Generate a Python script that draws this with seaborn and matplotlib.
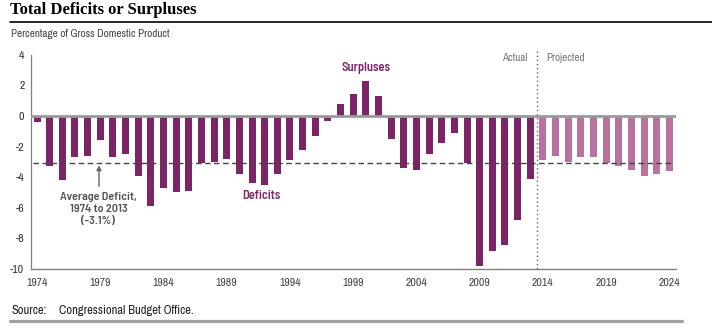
import numpy as np
import pandas as pd
import matplotlib
matplotlib.use("Agg")
import matplotlib.pyplot as plt
from matplotlib.lines import Line2D
import seaborn as sns

# ---- data -------------------------------------------------------------
actual_years = list(range(1974, 2014))
actual_values = [-0.4, -3.3, -4.2, -2.7, -2.6, -1.6, -2.7, -2.5, -3.9, -5.9,
                 -4.7, -5.0, -4.9, -3.1, -3.0, -2.8, -3.8, -4.4, -4.5, -3.8,
                 -2.9, -2.2, -1.3, -0.3, 0.8, 1.4, 2.3, 1.3, -1.5, -3.4,
                 -3.5, -2.5, -1.8, -1.1, -3.1, -9.8, -8.8, -8.4, -6.8, -4.1]
projected_years = list(range(2014, 2025))
projected_values = [-2.9, -2.6, -3.0, -2.7, -2.7, -3.1, -3.3, -3.5, -3.9, -3.8, -3.6]
average_deficit = -3.1
xtick_years = list(range(1974, 2025, 5))
yticks = [-10, -8, -6, -4, -2, 0, 2, 4]

df = pd.DataFrame({
    "year": actual_years + projected_years,
    "value": actual_values + projected_values,
    "period": ["Actual"] * len(actual_years) + ["Projected"] * len(projected_years),
})

# ---- style -------------------------------------------------------------
sns.set_style("white")
NARROW = ["Archivo Narrow", "DejaVu Sans"]
BOLDF = ["Barlow Semi Condensed", "DejaVu Sans"]
plt.rcParams["font.family"] = NARROW

C_ACT = "#7B2466"
C_PROJ = "#B8729E"
GREY_TXT = "#555555"
AX_GREY = "#808080"

W, H = 712, 329
fig = plt.figure(figsize=(W / 100, H / 100), dpi=100)
fig.patch.set_facecolor("white")

def px(x, y):
    return x / W, 1 - y / H

ax = fig.add_axes([30.7 / W, 1 - 269 / H, (675.7 - 30.7) / W, (269 - 54.7) / H])

sns.barplot(data=df, x="year", y="value", hue="period",
            palette={"Actual": C_ACT, "Projected": C_PROJ},
            native_scale=True, width=0.55, dodge=False, saturation=1,
            linewidth=0, legend=False, ax=ax)

ax.set_xlim(1973.5, 2024.5)
ax.set_ylim(-10, 4)
ax.set_xlabel("")
ax.set_ylabel("")

for s in ["top", "right"]:
    ax.spines[s].set_visible(False)
ax.spines["left"].set_color(AX_GREY)
ax.spines["left"].set_linewidth(0.9)
ax.spines["bottom"].set_color(AX_GREY)
ax.spines["bottom"].set_linewidth(1.0)

ax.set_yticks(yticks)
ax.set_yticklabels([str(v) for v in yticks])
ax.tick_params(axis="y", direction="in", length=3, width=0.8, color=AX_GREY,
               labelsize=8.5, labelcolor="#333333", pad=4.5)

ax.set_xticks(xtick_years)
ax.set_xticklabels([str(v) for v in xtick_years])
ax.set_xticks([y - 0.5 for y in xtick_years[1:]], minor=True)
ax.tick_params(axis="x", which="major", length=0, labelsize=8.5,
               labelcolor="#444444", pad=6.5)
ax.tick_params(axis="x", which="minor", direction="in", length=3, width=0.8,
               color=AX_GREY)

# zero line
ax.axhline(0, color="#9a9a9a", lw=2, zorder=5)

# average dashed line
ax.plot([1973.7, 2024.1], [average_deficit, average_deficit], color="#444444",
        lw=1, linestyle=(0, (4, 2.5)), zorder=6)

# actual / projected divider
ax.plot([2013.5, 2013.5], [-10, 4.25], color="#666666", lw=1,
        linestyle=(0, (1, 2)), clip_on=False, zorder=6)

ax.text(2012.8, 3.8, "Actual", ha="right", va="center", fontsize=8,
        color="#777777")
ax.text(2014.27, 3.8, "Projected", ha="left", va="center", fontsize=8,
        color="#777777")

ax.text(1991.72, -5.26, "Deficits", ha="center", va="center", fontsize=9,
        fontweight="semibold", family=BOLDF, color=C_ACT)
ax.text(1999.99, 3.1, "Surpluses", ha="center", va="center", fontsize=9,
        fontweight="semibold", family=BOLDF, color=C_ACT)

ax.text(1978.85, -4.95, "Average Deficit,\n1974 to 2013\n(-3.1%)", ha="center",
        va="top", fontsize=8.7, fontweight="semibold", family=BOLDF,
        color=GREY_TXT, linespacing=1.25)
ax.annotate("", xy=(1978.9, -3.22), xytext=(1978.9, -4.6),
            arrowprops=dict(arrowstyle="-|>", color="#666666", lw=1,
                            mutation_scale=7, shrinkA=0, shrinkB=0))

# ---- figure-level text ----------------------------------------------------
fig.text(*px(10, 10.5), "Total Deficits or Surpluses", ha="left", va="center",
         fontsize=12, fontweight="bold", family=["Liberation Serif", "DejaVu Serif"],
         color="black")
fig.add_artist(Line2D([10 / W, 1.0], [1 - 21.7 / H] * 2, color="black", lw=1.2))
fig.text(*px(11, 34), "Percentage of Gross Domestic Product", ha="left",
         va="center", fontsize=8, color="#444444")
fig.text(*px(11, 310.7), "Source:", ha="left", va="center", fontsize=9,
         color="#222222")
fig.text(*px(58.7, 310.7), "Congressional Budget Office.", ha="left",
         va="center", fontsize=9, color="#222222")
fig.add_artist(Line2D([10 / W, 682 / W], [1 - 320.7 / H] * 2, color="#a0a0a0",
                      lw=2.3))

fig.savefig("out.png", dpi=100)
